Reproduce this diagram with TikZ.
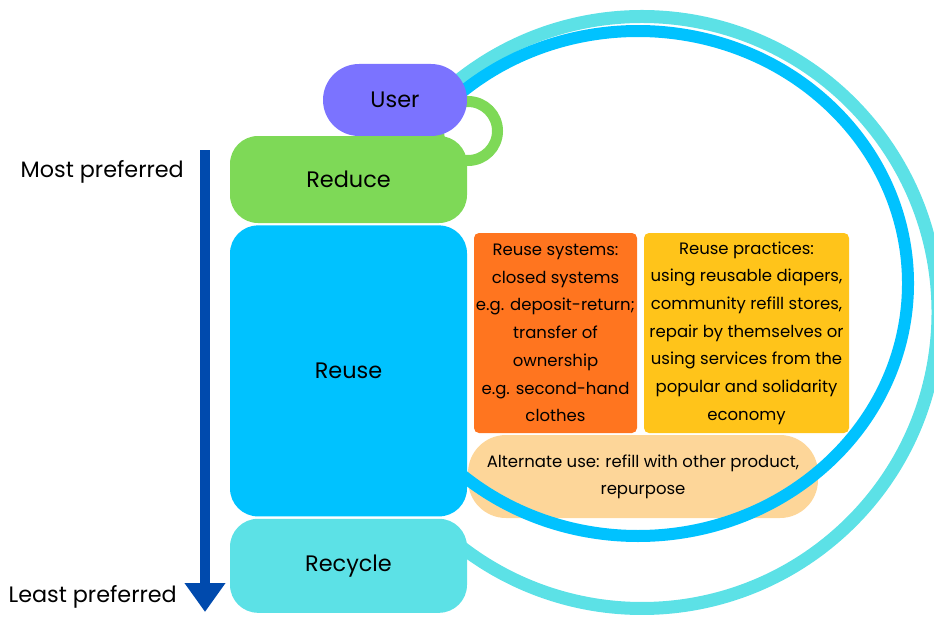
\documentclass[tikz,border=0pt]{standalone}
\usepackage{fontspec}
\setmainfont{Poppins}
\usepackage{tikz}
\usetikzlibrary{arrows.meta, positioning}
\definecolor{userpurple}{RGB}{123,115,255}
\definecolor{reducegreen}{RGB}{126,217,87}
\definecolor{reuseblue}{RGB}{0,194,255}
\definecolor{recyclecyan}{RGB}{92,225,230}
\definecolor{arrowblue}{RGB}{0,74,173}
\definecolor{systemorange}{RGB}{255,117,31}
\definecolor{practiceyellow}{RGB}{255,196,26}
\definecolor{altpeach}{RGB}{253,214,153}

\begin{document}
\begin{tikzpicture}[x=1pt, y=-1pt,
    tier/.style={rectangle, rounded corners=28pt, minimum width=237pt, inner sep=0pt, font=\fontsize{22.4}{28}\selectfont},
    card/.style={rectangle, rounded corners=5pt, minimum height=200pt, inner sep=0pt, align=center, font=\fontsize{16.5}{27.7}\selectfont},
    side/.style={font=\fontsize{22.3}{28}\selectfont, inner sep=0pt}]
    \useasboundingbox (0,0) rectangle (934,618);

    % Reuse options
    \node[card, fill=altpeach, rounded corners=38pt, minimum width=350pt, minimum height=83pt, font=\fontsize{16.5}{27}\selectfont] (alt) at (643,476.5) {Alternate use: refill with other product,\\repurpose};
    \node[card, fill=systemorange, minimum width=163pt] (systems) at (555.5,333) {Reuse systems:\\closed systems\\e.g. deposit-return;\\transfer of\\ownership\\e.g. second-hand\\clothes};
    \node[card, fill=practiceyellow, minimum width=205pt] (practices) at (746.5,333) {Reuse practices:\\using reusable diapers,\\community refill stores,\\repair by themselves or\\using services from the\\popular and solidarity\\economy};

    % Loops
    \coordinate (outerc) at (642,312.5);
    \coordinate (innerc) at (638,283.5);
    \draw[recyclecyan, line width=13pt] (outerc) ++(130:296pt) arc[start angle=130, end angle=-130, radius=296pt];
    \draw[reuseblue, line width=12pt] (innerc) ++(134:270pt and 252.5pt) arc[start angle=134, end angle=-134, x radius=270pt, y radius=252.5pt];
    \draw[reducegreen, line width=11pt] (468,131) circle[radius=29.5pt];

    % Hierarchy
    \node[tier, fill=userpurple, minimum width=144pt, minimum height=72pt, rounded corners=36pt] (user) at (395,100) {User};
    \node[tier, fill=reducegreen, minimum height=87pt] (reduce) at (348.5,179.5) {Reduce};
    \node[tier, fill=reuseblue, minimum height=291pt, below=2pt of reduce] (reuse) {Reuse};
    \node[tier, fill=recyclecyan, minimum height=94pt, below=2pt of reuse] (recycle) {Recycle};

    % Preference arrow
    \coordinate (preftop) at (205,150);
    \coordinate (prefbot) at (205,612);
    \draw[arrowblue, line width=10pt, -{Triangle[width=39pt, length=29pt]}] (preftop) -- (prefbot);
    \node[side, anchor=east] (most) at (184,172) {Most preferred};
    \node[side, anchor=east] (least) at (177,597) {Least preferred};
\end{tikzpicture}
\end{document}
